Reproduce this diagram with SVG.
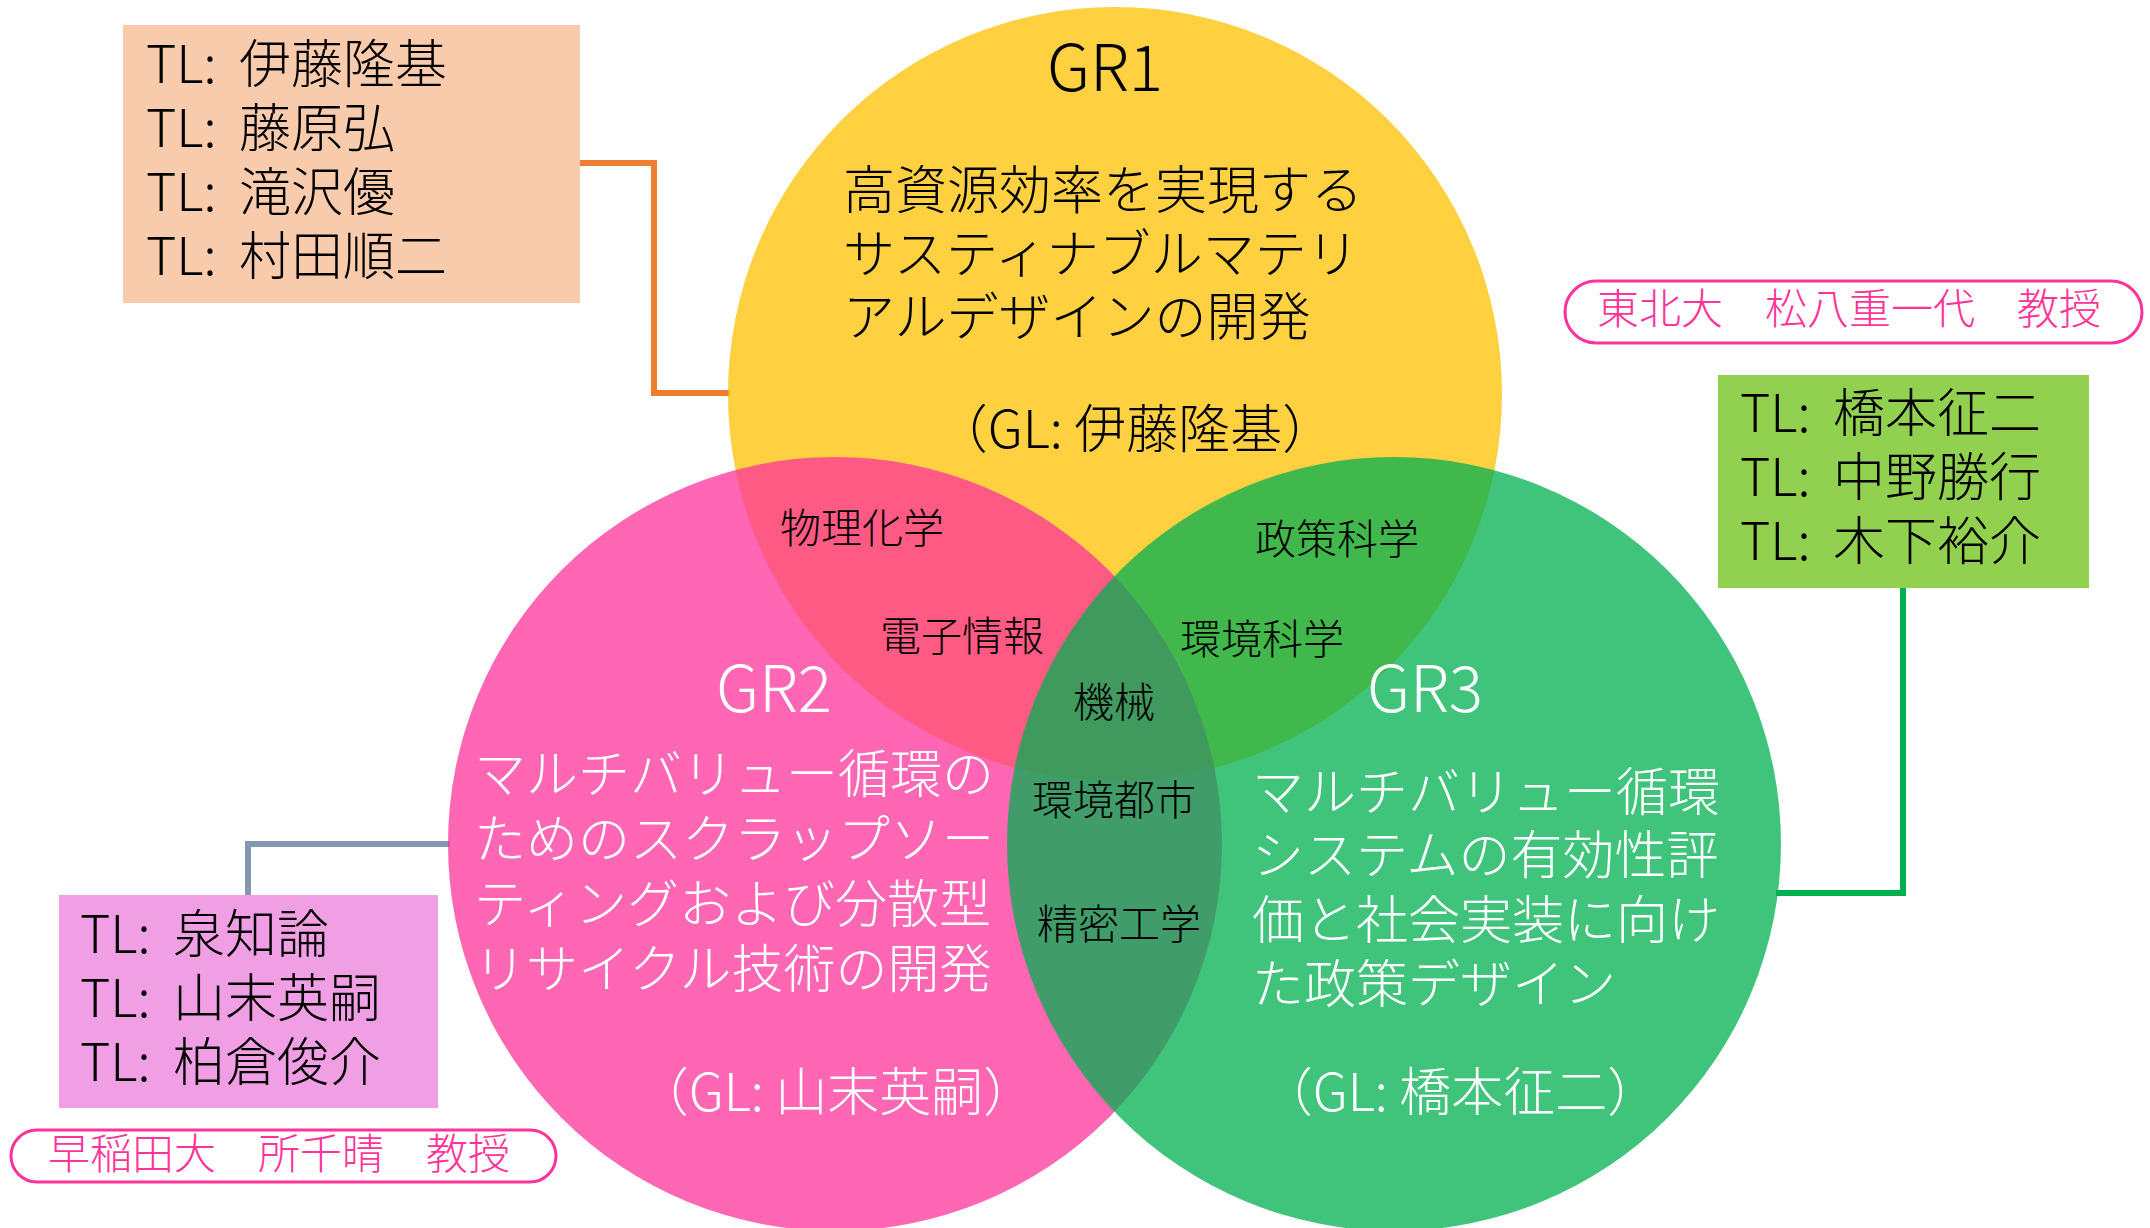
<svg xmlns="http://www.w3.org/2000/svg" width="2150" height="1228" viewBox="0 0 2150 1228">
<style>
text{font-family:"Noto Sans CJK JP","Noto Sans",sans-serif;font-weight:300}
.blk{fill:#000}
.wht{fill:#fff}
.big{font-size:52px}
.ttl{font-size:64px;text-anchor:middle}
.ov{font-size:41px;fill:#000}
.pill{fill:#fff;stroke:#FF3399;stroke-width:3}
.pt{font-size:42px;fill:#FF3399}
.conn{fill:none;stroke-width:6;stroke-linejoin:miter}
</style>
<rect width="2150" height="1228" fill="#fff"/>
<g id="connectors">
<polyline class="conn" stroke="#ED7D31" points="580,163 654,163 654,393 730,393"/>
<polyline class="conn" stroke="#8497B0" points="248,896 248,844 450,844"/>
<polyline class="conn" stroke="#00B050" points="1903,588 1903,893 1776,893"/>
</g>
<g id="circles">
<circle id="c-gr1" cx="1115" cy="394" r="387" fill="#FFC000" fill-opacity="0.75"/>
<circle id="c-gr2" cx="835" cy="844" r="387" fill="#FF3399" fill-opacity="0.75"/>
<circle id="c-gr3" cx="1394" cy="844" r="387" fill="#00B050" fill-opacity="0.75"/>
</g>
<g id="gr1">
<text class="ttl blk" x="1105" y="91">GR1</text>
<text class="big blk"><tspan x="843" y="209">高資源効率を実現する</tspan><tspan x="843" y="273">サスティナブルマテリ</tspan><tspan x="843" y="336">アルデザインの開発</tspan></text>
<text class="big blk" x="1135" y="448" text-anchor="middle">（GL: 伊藤隆基）</text>
</g>
<g id="gr2">
<text class="ttl wht" x="774" y="712">GR2</text>
<text class="big wht"><tspan x="474" y="793">マルチバリュー循環の</tspan><tspan x="474" y="858">ためのスクラップソー</tspan><tspan x="474" y="923">ティングおよび分散型</tspan><tspan x="474" y="988">リサイクル技術の開発</tspan></text>
<text class="big wht" x="836" y="1111" text-anchor="middle">（GL: 山末英嗣）</text>
</g>
<g id="gr3">
<text class="ttl wht" x="1425" y="712">GR3</text>
<text class="big wht"><tspan x="1252" y="811">マルチバリュー循環</tspan><tspan x="1252" y="874">システムの有効性評</tspan><tspan x="1252" y="939">価と社会実装に向け</tspan><tspan x="1252" y="1003">た政策デザイン</tspan></text>
<text class="big wht" x="1460" y="1111" text-anchor="middle">（GL: 橋本征二）</text>
</g>
<g id="overlaps">
<text id="ov-butsuri" class="ov" x="780" y="543">物理化学</text>
<text id="ov-denshi" class="ov" x="880" y="651">電子情報</text>
<text id="ov-kikai" class="ov" x="1073" y="717">機械</text>
<text id="ov-toshi" class="ov" x="1032" y="815">環境都市</text>
<text id="ov-seimitsu" class="ov" x="1037" y="939">精密工学</text>
<text id="ov-seisaku" class="ov" x="1255" y="554">政策科学</text>
<text id="ov-kankyo" class="ov" x="1180" y="654">環境科学</text>
</g>
<g id="tl-gr1">
<rect x="123" y="25" width="457" height="278" fill="#F8CBAD"/>
<text class="big blk"><tspan x="146" y="83">TL: </tspan><tspan x="239">伊藤隆基</tspan><tspan x="146" y="147">TL: </tspan><tspan x="239">藤原弘</tspan><tspan x="146" y="211">TL: </tspan><tspan x="239">滝沢優</tspan><tspan x="146" y="275">TL: </tspan><tspan x="239">村田順二</tspan></text>
</g>
<g id="tl-gr3">
<rect x="1718" y="375" width="371" height="213" fill="#92D050"/>
<text class="big blk"><tspan x="1740" y="432">TL: </tspan><tspan x="1833">橋本征二</tspan><tspan x="1740" y="496">TL: </tspan><tspan x="1833">中野勝行</tspan><tspan x="1740" y="560">TL: </tspan><tspan x="1833">木下裕介</tspan></text>
</g>
<g id="tl-gr2">
<rect x="59" y="895" width="379" height="213" fill="#F19FE5"/>
<text class="big blk"><tspan x="80" y="953">TL: </tspan><tspan x="173">泉知論</tspan><tspan x="80" y="1017">TL: </tspan><tspan x="173">山末英嗣</tspan><tspan x="80" y="1081">TL: </tspan><tspan x="173">柏倉俊介</tspan></text>
</g>
<g id="pill-tohoku">
<rect class="pill" x="1565" y="281" width="577" height="62" rx="31"/>
<text class="pt" x="1597" y="324">東北大　松八重一代　教授</text>
</g>
<g id="pill-waseda">
<rect class="pill" x="11" y="1130" width="545" height="52" rx="26"/>
<text class="pt" x="48" y="1169">早稲田大　所千晴　教授</text>
</g>
</svg>
